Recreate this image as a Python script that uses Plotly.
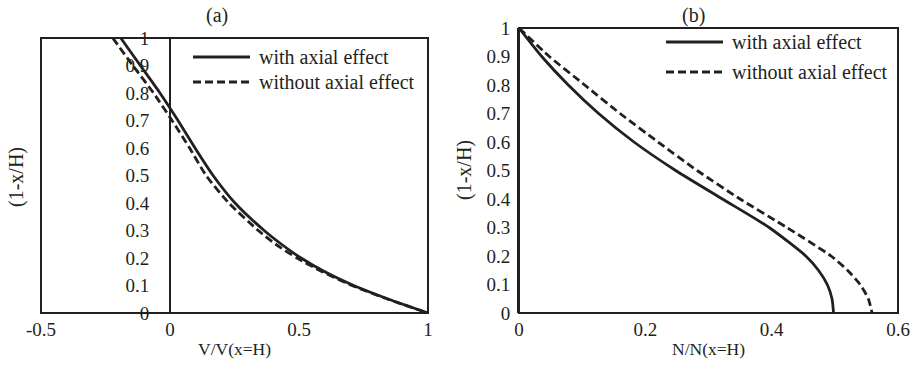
import plotly.graph_objects as go

# ---- Panel (a): normalised shear V/V(x=H) along the height ----
a_height = [1.0, 0.9, 0.8, 0.7, 0.6, 0.5, 0.4, 0.3, 0.25, 0.2, 0.15, 0.1, 0.05, 0.0]
a_shear_with = [-0.191, -0.115, -0.039, 0.031, 0.097, 0.167, 0.252, 0.365, 0.432, 0.508, 0.60, 0.712, 0.848, 1.0]
a_shear_without = [-0.222, -0.144, -0.064, 0.008, 0.076, 0.14, 0.228, 0.342, 0.41, 0.492, 0.59, 0.705, 0.845, 1.0]

# ---- Panel (b): normalised axial force N/N(x=H) along the height ----
b_height = [1.0, 0.9, 0.8, 0.7, 0.6, 0.5, 0.4, 0.3, 0.2, 0.15, 0.1, 0.05, 0.0]
b_axial_with = [0.0, 0.036, 0.078, 0.126, 0.182, 0.248, 0.322, 0.396, 0.454, 0.474, 0.488, 0.4955, 0.498]
b_axial_without = [0.0, 0.048, 0.104, 0.16, 0.22, 0.282, 0.35, 0.424, 0.494, 0.52, 0.54, 0.553, 0.559]

series_names = ["with axial effect", "without axial effect"]

a_xticks = [-0.5, 0, 0.5, 1]
a_xtick_text = ["-0.5", "0", "0.5", "1"]
b_xticks = [0, 0.2, 0.4, 0.6]
b_xtick_text = ["0", "0.2", "0.4", "0.6"]
yticks = [0, 0.1, 0.2, 0.3, 0.4, 0.5, 0.6, 0.7, 0.8, 0.9, 1]
ytick_text = ["0", "0.1", "0.2", "0.3", "0.4", "0.5", "0.6", "0.7", "0.8", "0.9", "1"]

W, H = 914, 366
INK = "#231f20"
FONT = '"Liberation Serif", "Times New Roman", Times, serif'
DASH = "8px,4px"
LW = 2.8


def px(x):
    return x / W


def py(y):
    return 1 - y / H


fig = go.Figure()

line_solid = dict(color=INK, width=LW, shape="spline", smoothing=0.6)
line_dash = dict(color=INK, width=LW, dash=DASH, shape="spline", smoothing=0.6)

fig.add_trace(go.Scatter(x=a_shear_with, y=a_height, mode="lines", name=series_names[0],
                         line=line_solid, xaxis="x", yaxis="y"))
fig.add_trace(go.Scatter(x=a_shear_without, y=a_height, mode="lines", name=series_names[1],
                         line=line_dash, xaxis="x", yaxis="y"))
fig.add_trace(go.Scatter(x=b_axial_with, y=b_height, mode="lines", name=series_names[0],
                         line=line_solid, xaxis="x2", yaxis="y2"))
fig.add_trace(go.Scatter(x=b_axial_without, y=b_height, mode="lines", name=series_names[1],
                         line=line_dash, xaxis="x2", yaxis="y2"))

tick_font = dict(family=FONT, size=19, color=INK)
common_x = dict(showgrid=False, zeroline=False, showline=False, ticks="", automargin=False,
                tickfont=tick_font, ticklabelstandoff=3)
common_y = dict(showgrid=False, zeroline=False, ticks="", range=[0, 1], automargin=False,
                tickvals=yticks, ticktext=ytick_text, tickfont=tick_font,
                showline=True, linecolor=INK, linewidth=2)

a_dom_x = [px(41), px(428)]
b_dom_x = [px(519), px(898)]

fig.update_layout(
    width=W, height=H,
    margin=dict(l=0, r=0, t=0, b=0, autoexpand=False),
    paper_bgcolor="white", plot_bgcolor="white",
    showlegend=False,
    font=dict(family=FONT, color=INK),
    xaxis=dict(domain=a_dom_x, range=[-0.5, 1], tickvals=a_xticks, ticktext=a_xtick_text,
               anchor="y", **common_x),
    yaxis=dict(domain=[py(313), py(38)], anchor="free", position=px(170),
               ticklabelstandoff=16, **common_y),
    xaxis2=dict(domain=b_dom_x, range=[0, 0.6], tickvals=b_xticks, ticktext=b_xtick_text,
                anchor="y2", **common_x),
    yaxis2=dict(domain=[py(313), py(28)], anchor="x2", ticklabelstandoff=3, **common_y),
)

# frame around each plotting area
for xr, yr in (("x domain", "y domain"), ("x2 domain", "y2 domain")):
    fig.add_shape(type="rect", xref=xr, yref=yr, x0=0, x1=1, y0=0, y1=1,
                  line=dict(color=INK, width=2), layer="above")

# legends drawn as line samples plus labels
legend_specs = [
    (193, 250, 257, [57, 82]),
    (666, 723, 730, [42, 72]),
]
for x0, x1, xt, ys in legend_specs:
    for name, yy, dash in zip(series_names, ys, [None, DASH]):
        ln = dict(color=INK, width=LW)
        if dash:
            ln["dash"] = dash
        fig.add_shape(type="line", xref="paper", yref="paper",
                      x0=px(x0), x1=px(x1), y0=py(yy), y1=py(yy), line=ln)
        fig.add_annotation(x=px(xt), y=py(yy), xref="paper", yref="paper", text=name,
                           showarrow=False, xanchor="left", yanchor="middle",
                           font=dict(family=FONT, size=20, color=INK))

# panel letters and axis titles
texts = [
    ("(a)", 217, 15, 0, 20),
    ("(b)", 693, 15, 0, 20),
    ("V/V(x=H)", 234.5, 349, 0, 17.5),
    ("N/N(x=H)", 708.5, 349, 0, 17.5),
    ("(1-x/H)", 16, 177, -90, 20),
    ("(1-x/H)", 464, 170, -90, 20),
]
for t, x, y, ang, sz in texts:
    fig.add_annotation(x=px(x), y=py(y), xref="paper", yref="paper", text=t,
                       showarrow=False, xanchor="center", yanchor="middle", textangle=ang,
                       font=dict(family=FONT, size=sz, color=INK))

fig.write_html(
    "out.html",
    post_script="document.body.style.margin='0';document.body.style.overflow='hidden';",
)
